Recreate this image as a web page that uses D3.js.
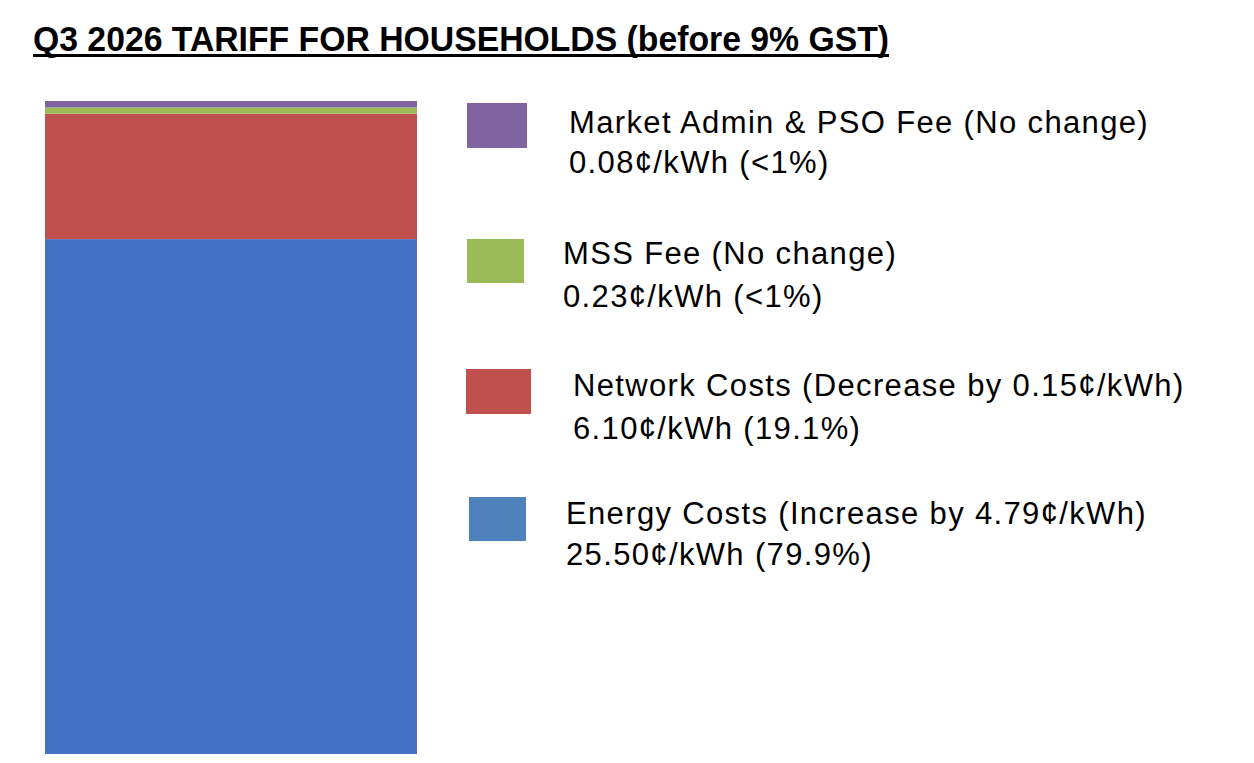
<!DOCTYPE html>
<html>
<head>
<meta charset="utf-8">
<script src="https://cdn.jsdelivr.net/npm/d3@7"></script>
<style>
  html, body { margin: 0; padding: 0; background: #fff; }
  svg { display: block; }
</style>
</head>
<body>
<svg id="chart" width="1254" height="763"></svg>
<script>
// ---- data ----
const title = "Q3 2026 TARIFF FOR HOUSEHOLDS (before 9% GST)";
const components = ["Energy Costs", "Network Costs", "MSS Fee", "Market Admin & PSO Fee"];
const labelValues = [25.50, 6.10, 0.23, 0.08];             // ¢/kWh (as labelled)
// segment heights as drawn in the picture (small fees are drawn enlarged)
const barValues = [25.50, 6.21, 0.31, 0.32];
const shares = ["79.9%", "19.1%", "<1%", "<1%"];
const changes = ["Increase by 4.79¢/kWh", "Decrease by 0.15¢/kWh", "No change", "No change"];
const barColors = ["#4472C4", "#C0504D", "#9BBB59", "#8064A2"];
const legendColors = ["#4F81BD", "#C0504D", "#9BBB59", "#8064A2"];

const svg = d3.select("#chart");

// ---- title ----
svg.append("text")
  .attr("x", 33).attr("y", 51)
  .attr("font-family", "'Liberation Sans Narrow', 'Liberation Sans', Arial, sans-serif")
  .attr("font-weight", "bold")
  .attr("font-size", 35)
  .attr("fill", "#000")
  .attr("textLength", 856)
  .attr("lengthAdjust", "spacingAndGlyphs")
  .text(title);
svg.append("rect").attr("x", 33).attr("y", 54).attr("width", 856).attr("height", 3).attr("fill", "#000");

// ---- stacked bar ----
const total = d3.sum(barValues);
const y = d3.scaleLinear().domain([0, total]).range([754, 101]);
const x = d3.scaleBand().domain(["Q3 2026"]).range([45, 417]).padding(0);

let cum = 0;
const segs = barValues.map((v, i) => { const s = { i, y0: cum, y1: cum + v }; cum += v; return s; });
svg.append("g").selectAll("rect").data(segs).join("rect")
  .attr("x", x("Q3 2026"))
  .attr("width", x.bandwidth())
  .attr("y", d => y(d.y1))
  .attr("height", d => y(d.y0) - y(d.y1))
  .attr("fill", d => barColors[d.i]);

// ---- legend (top to bottom: admin, mss, network, energy) ----
const legendItems = [
  { i: 3, sw: [467, 103, 60, 45], tx: 569, b1: 132.5, b2: 173 },
  { i: 2, sw: [467, 239, 57, 44], tx: 563, b1: 263.5, b2: 307 },
  { i: 1, sw: [466, 369, 65, 45], tx: 573, b1: 396, b2: 438.5 },
  { i: 0, sw: [469, 497, 57, 44], tx: 566, b1: 523.5, b2: 565 }
];
const lg = svg.append("g").attr("font-family", "'Liberation Sans', Arial, sans-serif")
  .attr("font-size", 31).attr("letter-spacing", 1.35).attr("fill", "#000");
legendItems.forEach(it => {
  lg.append("rect").attr("x", it.sw[0]).attr("y", it.sw[1]).attr("width", it.sw[2]).attr("height", it.sw[3])
    .attr("fill", legendColors[it.i]);
  lg.append("text").attr("x", it.tx).attr("y", it.b1)
    .text(`${components[it.i]} (${changes[it.i]})`);
  lg.append("text").attr("x", it.tx).attr("y", it.b2)
    .text(`${labelValues[it.i].toFixed(2)}¢/kWh (${shares[it.i]})`);
});
</script>
</body>
</html>
